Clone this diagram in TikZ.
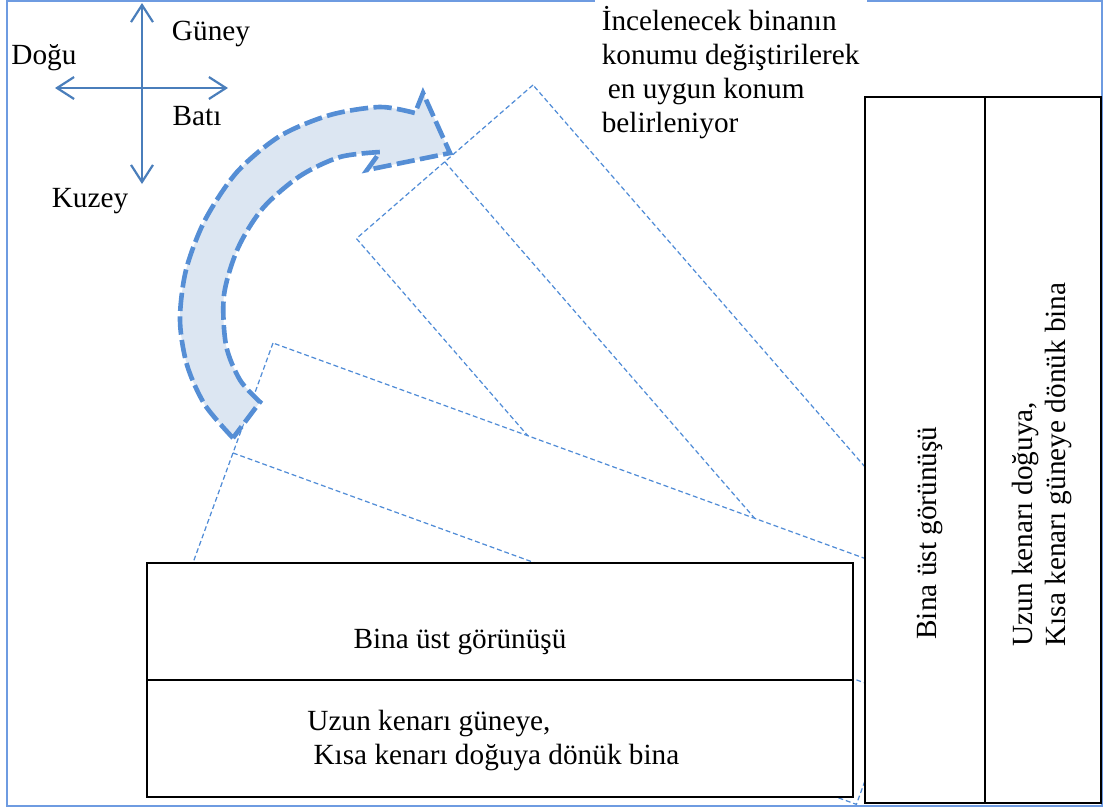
\documentclass[tikz,border=0pt]{standalone}
\usepackage{fontspec}
\setmainfont{Liberation Serif}
\usetikzlibrary{arrows.meta}
\definecolor{cerceve}{RGB}{110,155,225}
\definecolor{pusula}{RGB}{74,126,187}
\definecolor{kesik}{RGB}{80,140,215}
\definecolor{okcizgi}{RGB}{85,142,213}
\definecolor{okdolgu}{RGB}{220,230,242}
\begin{document}
\begin{tikzpicture}[x=0.41pt, y=-0.41pt,
  every node/.style={font=\fontsize{12}{13.9}\selectfont, inner sep=0pt},
  bina/.style={draw=black, line width=1.2pt, fill=white},
  plan/.style={draw=kesik, line width=0.5pt, dash pattern=on 2pt off 1.2pt, fill=white},
  yon/.style={pusula, line width=0.9pt, {Straight Barb[length=7pt,width=9pt]}-{Straight Barb[length=7pt,width=9pt]}}]
  \useasboundingbox (0,0) rectangle (1103,807);
  \draw[cerceve, line width=0.8pt] (7,1) rectangle (1102,806);
  % note
  \node[fill=white, inner sep=3pt, anchor=north west, align=left] (aciklama) at (594,-1) {İncelenecek binanın\\konumu değiştirilerek\\\hspace{2.5pt}en uygun konum\\belirleniyor};
  % rotated positions of the building
  \begin{scope}[shift={(533,85)}, rotate=-49]
    \filldraw[plan] (0,0) rectangle (706,234);
    \draw[plan] (0,117) -- (706,117);
  \end{scope}
  \begin{scope}[shift={(273,343)}, rotate=-20]
    \filldraw[plan] (0,0) rectangle (706,234);
    \draw[plan] (0,117) -- (706,117);
  \end{scope}
  % turning arrow
  \filldraw[draw=okcizgi, fill=okdolgu, line width=1.9pt, dash pattern=on 7.5pt off 2.2pt, line join=miter]
    plot[smooth] coordinates {(233,438) (205,405) (187,365) (180,320) (186,270) (205,220) (237,172) (280,136) (330,115) (380,107) (415,113)}
    -- (423,93) -- (450,153) -- (367,170) -- (380,152)
    -- plot[smooth] coordinates {(380,152) (340,157) (300,176) (263,208) (238,248) (224,295) (226,345) (240,380) (260,402)}
    -- cycle;
  % building, south side long
  \draw[bina] (147,563) rectangle (853,797);
  \draw[bina] (147,680) -- (853,680);
  \node (ustgorunus) at (460,642) {Bina üst görünüşü};
  \node[anchor=north west, align=left] (yerlesim) at (307,710) {Uzun kenarı güneye,\\\hspace{2.5pt}Kısa kenarı doğuya dönük bina};
  % building, east side long
  \draw[bina] (865,97) rectangle (1101,803);
  \draw[bina] (985,97) -- (985,803);
  \node[rotate=90] (ustgorunusdik) at (930,533) {Bina üst görünüşü};
  \node[rotate=90, anchor=west, align=left] (yerlesimdik) at (1042,647) {Uzun kenarı doğuya,\\Kısa kenarı güneye dönük bina};
  % compass
  \coordinate (guneyuc) at (142,3);
  \coordinate (kuzeyuc) at (142,184);
  \coordinate (doguuc) at (55,88);
  \coordinate (batiuc) at (228,88);
  \draw[yon] (kuzeyuc) -- (guneyuc);
  \draw[yon] (doguuc) -- (batiuc);
  \node[anchor=base] (guney) at (211,40) {Güney};
  \node[anchor=base] (dogu) at (44,64) {Doğu};
  \node[anchor=base] (bati) at (197,125) {Batı};
  \node[anchor=base] (kuzey) at (90,207) {Kuzey};
\end{tikzpicture}
\end{document}
